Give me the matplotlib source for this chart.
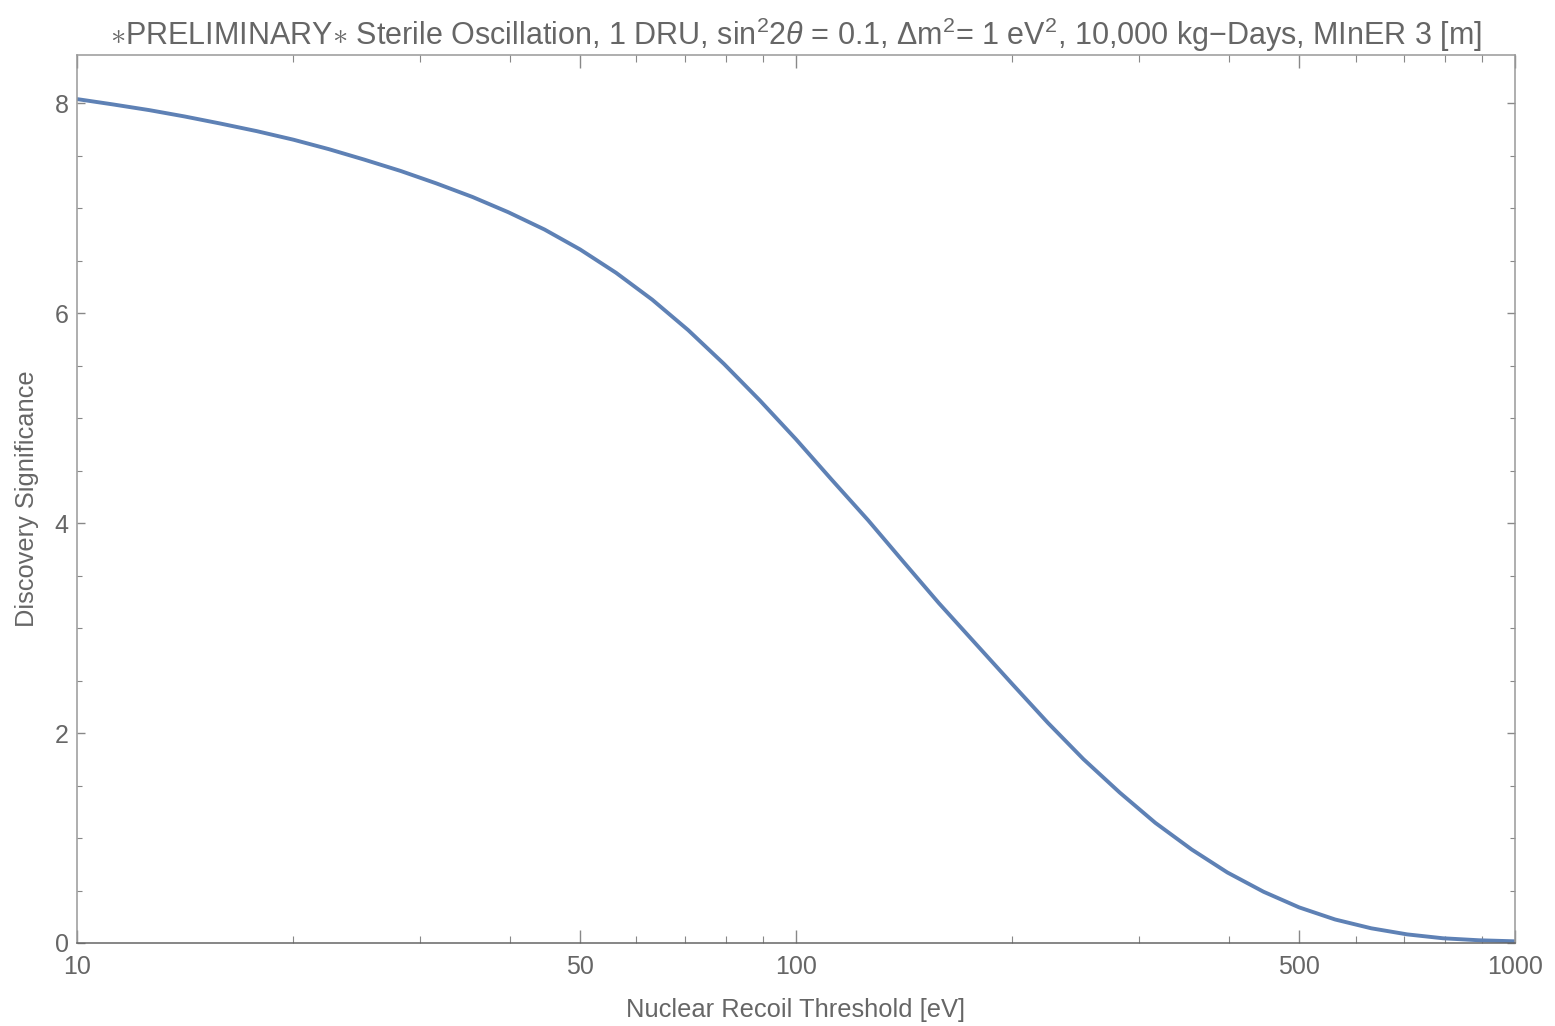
import numpy as np
import matplotlib
matplotlib.use("Agg")
import matplotlib.pyplot as plt
from matplotlib.ticker import FixedLocator, NullFormatter


plt.rcParams["font.family"] = ["Liberation Sans", "DejaVu Sans"]
plt.rcParams["mathtext.fontset"] = "custom"
plt.rcParams["mathtext.rm"] = "Liberation Sans"
plt.rcParams["mathtext.it"] = "Liberation Sans:italic"

# nuclear recoil threshold [eV] vs discovery significance
threshold = [10, 11.2, 12.6, 14.1, 15.8, 17.8, 20, 22.4, 25.1, 28.2,
             31.6, 35.5, 39.8, 44.7, 50.1, 56.2, 63.1, 70.8, 79.4, 89.1,
             100, 112, 126, 141, 158, 178, 200, 224, 251, 282,
             316, 355, 398, 447, 501, 562, 631, 708, 794, 891, 1000]
significance = [8.040, 7.990, 7.935, 7.875, 7.808, 7.734, 7.653, 7.563, 7.463, 7.355,
                7.237, 7.107, 6.962, 6.797, 6.607, 6.385, 6.129, 5.839, 5.517, 5.168,
                4.799, 4.417, 4.027, 3.633, 3.238, 2.847, 2.465, 2.098, 1.752, 1.433,
                1.145, 0.891, 0.672, 0.488, 0.339, 0.224, 0.140, 0.082, 0.045, 0.026,
                0.016]

x_major = [10, 50, 100, 500, 1000]
x_major_labels = ["10", "50", "100", "500", "1000"]
x_minor = [20, 30, 40, 60, 70, 80, 90, 200, 300, 400, 600, 700, 800, 900]
y_major = [0, 2, 4, 6, 8]
y_minor = [0.5, 1, 1.5, 2.5, 3, 3.5, 4.5, 5, 5.5, 6.5, 7, 7.5, 8.5]

text_gray = "#666666"

fig = plt.figure(figsize=(15.55, 10.26), dpi=100)
ax = fig.add_axes([0.0495, 0.0809, 0.9248, 0.8655])

ax.plot(threshold, significance, color="#5E81B5", lw=2.8,
        solid_joinstyle="round", solid_capstyle="butt")

ax.set_xscale("log")
ax.set_xlim(10, 1000)
ax.set_ylim(0, 8.46)

ax.xaxis.set_major_locator(FixedLocator(x_major))
ax.set_xticklabels(x_major_labels)
ax.xaxis.set_minor_locator(FixedLocator(x_minor))
ax.xaxis.set_minor_formatter(NullFormatter())
ax.yaxis.set_major_locator(FixedLocator(y_major))
ax.yaxis.set_minor_locator(FixedLocator(y_minor))

ax.tick_params(axis="x", which="major", direction="in", length=9.5, width=1.0,
               color="#888888", labelsize=18, labelcolor=text_gray, pad=9,
               top=True)
ax.tick_params(axis="x", which="minor", direction="in", length=5, width=0.8,
               color="#888888", top=True)
ax.tick_params(axis="y", which="major", direction="in", length=6, width=1.0,
               color="#888888", labelsize=18, labelcolor=text_gray, pad=6,
               right=True)
ax.tick_params(axis="y", which="minor", direction="in", length=3.6, width=0.8,
               color="#888888", right=True)

for side, spine in ax.spines.items():
    spine.set_linewidth(1.1)
    spine.set_color("#999999")
ax.spines["bottom"].set_color("#666666")

ax.set_xlabel("Nuclear Recoil Threshold [eV]", fontsize=18.4, color=text_gray,
              labelpad=13)
ax.set_ylabel("Discovery Significance", fontsize=18.3, color=text_gray,
              labelpad=11)
ax.set_title("$\\ast$PRELIMINARY$\\ast$ Sterile Oscillation, 1 DRU, "
             "sin$^2$2$\\theta$ = 0.1, Δm$^2$= 1 eV$^2$, 10,000 kg−Days, MInER 3 [m]",
             fontsize=22, color=text_gray, pad=7)

fig.savefig("out.png", dpi=100, facecolor="white")
